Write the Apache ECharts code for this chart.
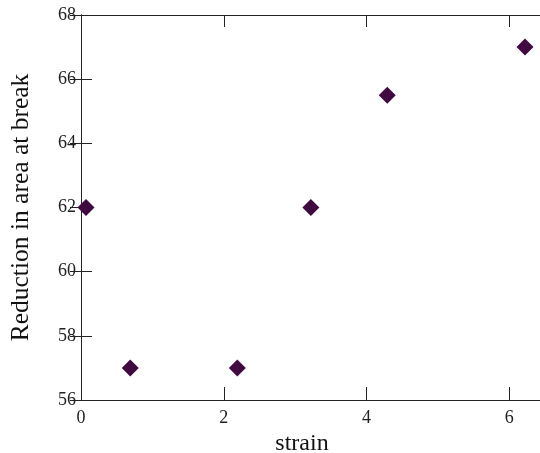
<!DOCTYPE html>
<html><head><meta charset="utf-8">
<script src="https://cdn.jsdelivr.net/npm/echarts@6/dist/echarts.min.js"></script>
<style>html,body{margin:0;padding:0;background:#fff;overflow:hidden}#c{width:540px;height:453px}</style>
</head><body><div id="c"></div>
<script>
const strain = [0.07, 0.69, 2.19, 3.22, 4.29, 6.22];
const reduction = [62, 57, 57, 62, 65.5, 67];
const xTitle = 'strain';
const yTitle = 'Reduction in area at break';

const chart = echarts.init(document.getElementById('c'));
const font = 'Liberation Serif, Times New Roman, serif';
const lineStyle = {color: '#222', width: 1};
chart.setOption({
  animation: false,
  grid: {left: 81, right: -5, top: 15, bottom: 53, outerBoundsMode: 'none', containLabel: false},
  xAxis: [{
    type: 'value', min: 0, max: 6.5, interval: 2,
    name: xTitle, nameLocation: 'middle', nameGap: 27,
    nameTextStyle: {fontFamily: font, fontSize: 24, color: '#111', padding: [0, 22, 0, 0]},
    axisLine: {show: true, lineStyle},
    axisTick: {show: true, inside: true, length: 13, lineStyle},
    axisLabel: {fontFamily: font, fontSize: 18, color: '#222', margin: 9, showMaxLabel: false},
    splitLine: {show: false}
  }, {
    type: 'value', position: 'top', min: 0, max: 6.5, interval: 2,
    axisLine: {show: true, lineStyle},
    axisTick: {show: true, inside: true, length: 12, lineStyle},
    axisLabel: {show: false}, splitLine: {show: false}
  }],
  yAxis: [{
    type: 'value', min: 56, max: 68, interval: 2,
    name: yTitle, nameLocation: 'middle', nameGap: 47, nameRotate: 90,
    nameTextStyle: {fontFamily: font, fontSize: 25.5, color: '#111'},
    axisLine: {show: true, lineStyle},
    axisTick: {show: true, inside: true, length: 11, lineStyle},
    axisLabel: {fontFamily: font, fontSize: 18, color: '#222', margin: 5},
    splitLine: {show: false}
  }, {
    type: 'value', position: 'right', min: 56, max: 68, interval: 2,
    axisLine: {show: true, lineStyle},
    axisTick: {show: true, inside: true, length: 11, lineStyle},
    axisLabel: {show: false}, splitLine: {show: false}
  }],
  series: [{
    type: 'scatter',
    data: strain.map((s, i) => [s, reduction[i]]),
    symbol: 'diamond', symbolSize: 17,
    itemStyle: {color: '#400a40', opacity: 1}
  }]
});
</script></body></html>
